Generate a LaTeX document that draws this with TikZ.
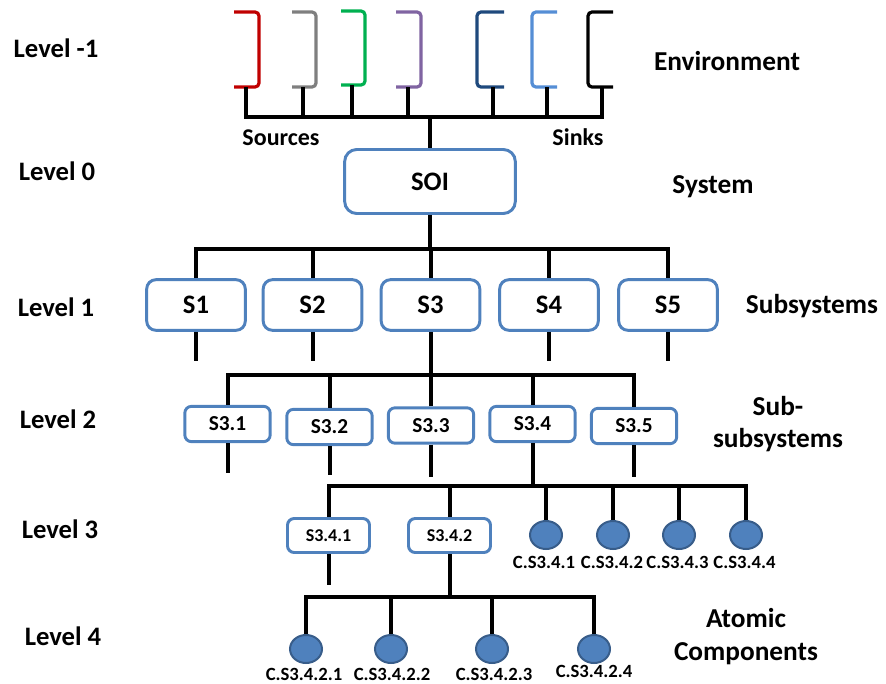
\documentclass[tikz,border=0pt]{standalone}
\usepackage{fontspec}
\setmainfont{Carlito}
\usetikzlibrary{shapes.geometric}
\definecolor{boxblue}{HTML}{4F81BD}
\definecolor{balledge}{HTML}{385D8A}
\definecolor{srcred}{HTML}{C00000}
\definecolor{srcgray}{HTML}{7F7F7F}
\definecolor{srcgreen}{HTML}{00B050}
\definecolor{srcpurple}{HTML}{8064A2}
\definecolor{snkdark}{HTML}{1F497D}
\definecolor{snklight}{HTML}{558ED5}
\newcommand{\fs}[1]{\fontsize{#1}{1.25\dimexpr#1pt\relax}\selectfont\bfseries}
\begin{document}
\begin{tikzpicture}[x=0.75pt,y=-0.75pt,
  conn/.style={line width=3pt},
  bkt/.style={line width=2.4pt, rounded corners=3pt},
  soibox/.style={draw=boxblue, line width=2.2pt, rounded corners=9pt, fill=white,
    minimum width=128pt, minimum height=48pt, inner sep=0pt, font=\fs{20}},
  subbox/.style={draw=boxblue, line width=2.2pt, rounded corners=7pt, fill=white,
    minimum width=74pt, minimum height=38pt, inner sep=0pt, font=\fs{20}},
  ssbox/.style={draw=boxblue, line width=2.2pt, rounded corners=5pt, fill=white,
    minimum width=64pt, minimum height=26.5pt, inner sep=0pt, font=\fs{16}},
  s4box/.style={draw=boxblue, line width=2.2pt, rounded corners=5pt, fill=white,
    minimum width=61.5pt, minimum height=25.5pt, inner sep=0pt, font=\fs{13.5}},
  atom/.style={ellipse, draw=balledge, fill=boxblue, line width=1.5pt,
    minimum width=24pt, minimum height=21pt, inner sep=0pt},
  tag/.style={inner sep=0pt, font=\fs{14}},
  lvl/.style={anchor=base, inner sep=0pt, font=\fs{20}},
  side/.style={anchor=base, inner sep=0pt, align=center, font=\fs{20.5}},
]
\useasboundingbox (0,0) rectangle (886,683);

% level labels
\node[lvl] (l-1) at (56,57.5) {Level -1};
\node[lvl] (l0) at (57,180.5) {Level 0};
\node[lvl] (l1) at (56,316.5) {Level 1};
\node[lvl] (l2) at (58,428.5) {Level 2};
\node[lvl] (l3) at (60,538.5) {Level 3};
\node[lvl] (l4) at (63,645.5) {Level 4};

% category labels
\node[side] (env) at (727,70.5) {Environment};
\node[side] (sys) at (713,193) {System};
\node[side] (subs) at (812,313.3) {Subsystems};
\node[side, anchor=north] (ssubs) at (778,396.5) {Sub-\\[-2pt]subsystems};
\node[side, anchor=north] (atomic) at (746,608) {Atomic\\[-1pt]Components};

% environment: sources and sinks
\draw[bkt, srcred]    (234,12) -- (259,12) -- (259,87) -- (234,87);
\draw[bkt, srcgray]   (292,12) -- (316,12) -- (316,87) -- (292,87);
\draw[bkt, srcgreen]  (341,11) -- (365,11) -- (365,85) -- (341,85);
\draw[bkt, srcpurple] (396,12) -- (421,12) -- (421,87) -- (396,87);
\draw[bkt, snkdark]   (504,12) -- (477,12) -- (477,87) -- (504,87);
\draw[bkt, snklight]  (557,12) -- (532,12) -- (532,87) -- (557,87);
\draw[bkt, black]     (613,12) -- (588,12) -- (588,87) -- (613,87);
\coordinate (src1) at (246,87);
\coordinate (src2) at (303,87);
\coordinate (src3) at (352,85);
\coordinate (src4) at (408,87);
\coordinate (snk1) at (493,87);
\coordinate (snk2) at (547,87);
\coordinate (snk3) at (602,87);
\coordinate (envbus) at (430,117);
\node[inner sep=0pt, anchor=base, font=\fs{18}] (sources) at (281,145) {Sources};
\node[inner sep=0pt, anchor=base, font=\fs{18}] (sinks) at (578,145) {Sinks};

% system of interest
\node[soibox] (soi) at (430,181.5) {SOI};

% level 1
\node[subbox] (s1) at (196,305) {S1};
\node[subbox] (s2) at (312.5,305) {S2};
\node[subbox] (s3) at (430.5,305) {S3};
\node[subbox] (s4) at (549,305) {S4};
\node[subbox] (s5) at (668,305) {S5};
\coordinate (bus1) at (430,249);

% level 2
\node[ssbox] (s31) at (227.5,424) {S3.1};
\node[ssbox] (s32) at (329.5,427) {S3.2};
\node[ssbox] (s33) at (431,425.5) {S3.3};
\node[ssbox] (s34) at (532.5,424) {S3.4};
\node[ssbox] (s35) at (634,426) {S3.5};
\coordinate (bus2) at (430,375);

% level 3
\node[s4box] (s341) at (328.5,535.5) {S3.4.1};
\node[s4box] (s342) at (449.5,535.5) {S3.4.2};
\node[atom] (c1) at (546,535) {};
\node[atom] (c2) at (613,535) {};
\node[atom] (c3) at (679,535) {};
\node[atom] (c4) at (746,535) {};
\node[tag] (c1t) at (544,562) {C.S3.4.1};
\node[tag] (c2t) at (612,562) {C.S3.4.2};
\node[tag] (c3t) at (677.5,562) {C.S3.4.3};
\node[tag] (c4t) at (744.5,562) {C.S3.4.4};
\coordinate (bus3) at (532,486);

% level 4
\node[atom] (d1) at (306,649) {};
\node[atom] (d2) at (391,649) {};
\node[atom] (d3) at (492,649) {};
\node[atom] (d4) at (594,649) {};
\node[tag] (d1t) at (304,674) {C.S3.4.2.1};
\node[tag] (d2t) at (392,674) {C.S3.4.2.2};
\node[tag] (d3t) at (494,674) {C.S3.4.2.3};
\node[tag] (d4t) at (594,671) {C.S3.4.2.4};
\coordinate (bus4) at (450,597);

% connectors: environment
\draw[conn] (src1) -- (src1 |- envbus) -| (snk3);
\foreach \p in {src2,src3,src4,snk1,snk2}
  \draw[conn] (\p) -- (\p |- envbus);
\draw[conn] (envbus) -- (soi.north);

% connectors: level 1
\draw[conn] (soi.south) -- (bus1);
\draw[conn] (s1.north) -- (s1.north |- bus1) -| (s5.north);
\foreach \n in {s2,s3,s4}
  \draw[conn] (\n.north) -- (\n.north |- bus1);
\foreach \n in {s1,s2,s4,s5}
  \draw[conn] (\n.south) -- ++(0,29);

% connectors: level 2
\draw[conn] (s3.south) -- (s3.south |- bus2);
\draw[conn] (s31.north) -- (s31.north |- bus2) -| (s35.north);
\foreach \n in {s32,s33,s34}
  \draw[conn] (\n.north) -- (\n.north |- bus2);
\draw[conn] (s31.south) -- ++(0,30);
\draw[conn] (s32.south) -- ++(0,29);
\draw[conn] (s33.south) -- ++(0,32);
\draw[conn] (s35.south) -- ++(0,32);

% connectors: level 3
\draw[conn] (s34.south) -- (s34.south |- bus3);
\draw[conn] (s341.north) -- (s341.north |- bus3) -| (c4.north);
\foreach \n in {s342,c1,c2,c3}
  \draw[conn] (\n.north) -- (\n.north |- bus3);
\draw[conn] (s341.south) -- ++(0,31);

% connectors: level 4
\draw[conn] (s342.south) -- (s342.south |- bus4);
\draw[conn] (d1.north) -- (d1.north |- bus4) -| (d4.north);
\foreach \n in {d2,d3}
  \draw[conn] (\n.north) -- (\n.north |- bus4);
\end{tikzpicture}
\end{document}
